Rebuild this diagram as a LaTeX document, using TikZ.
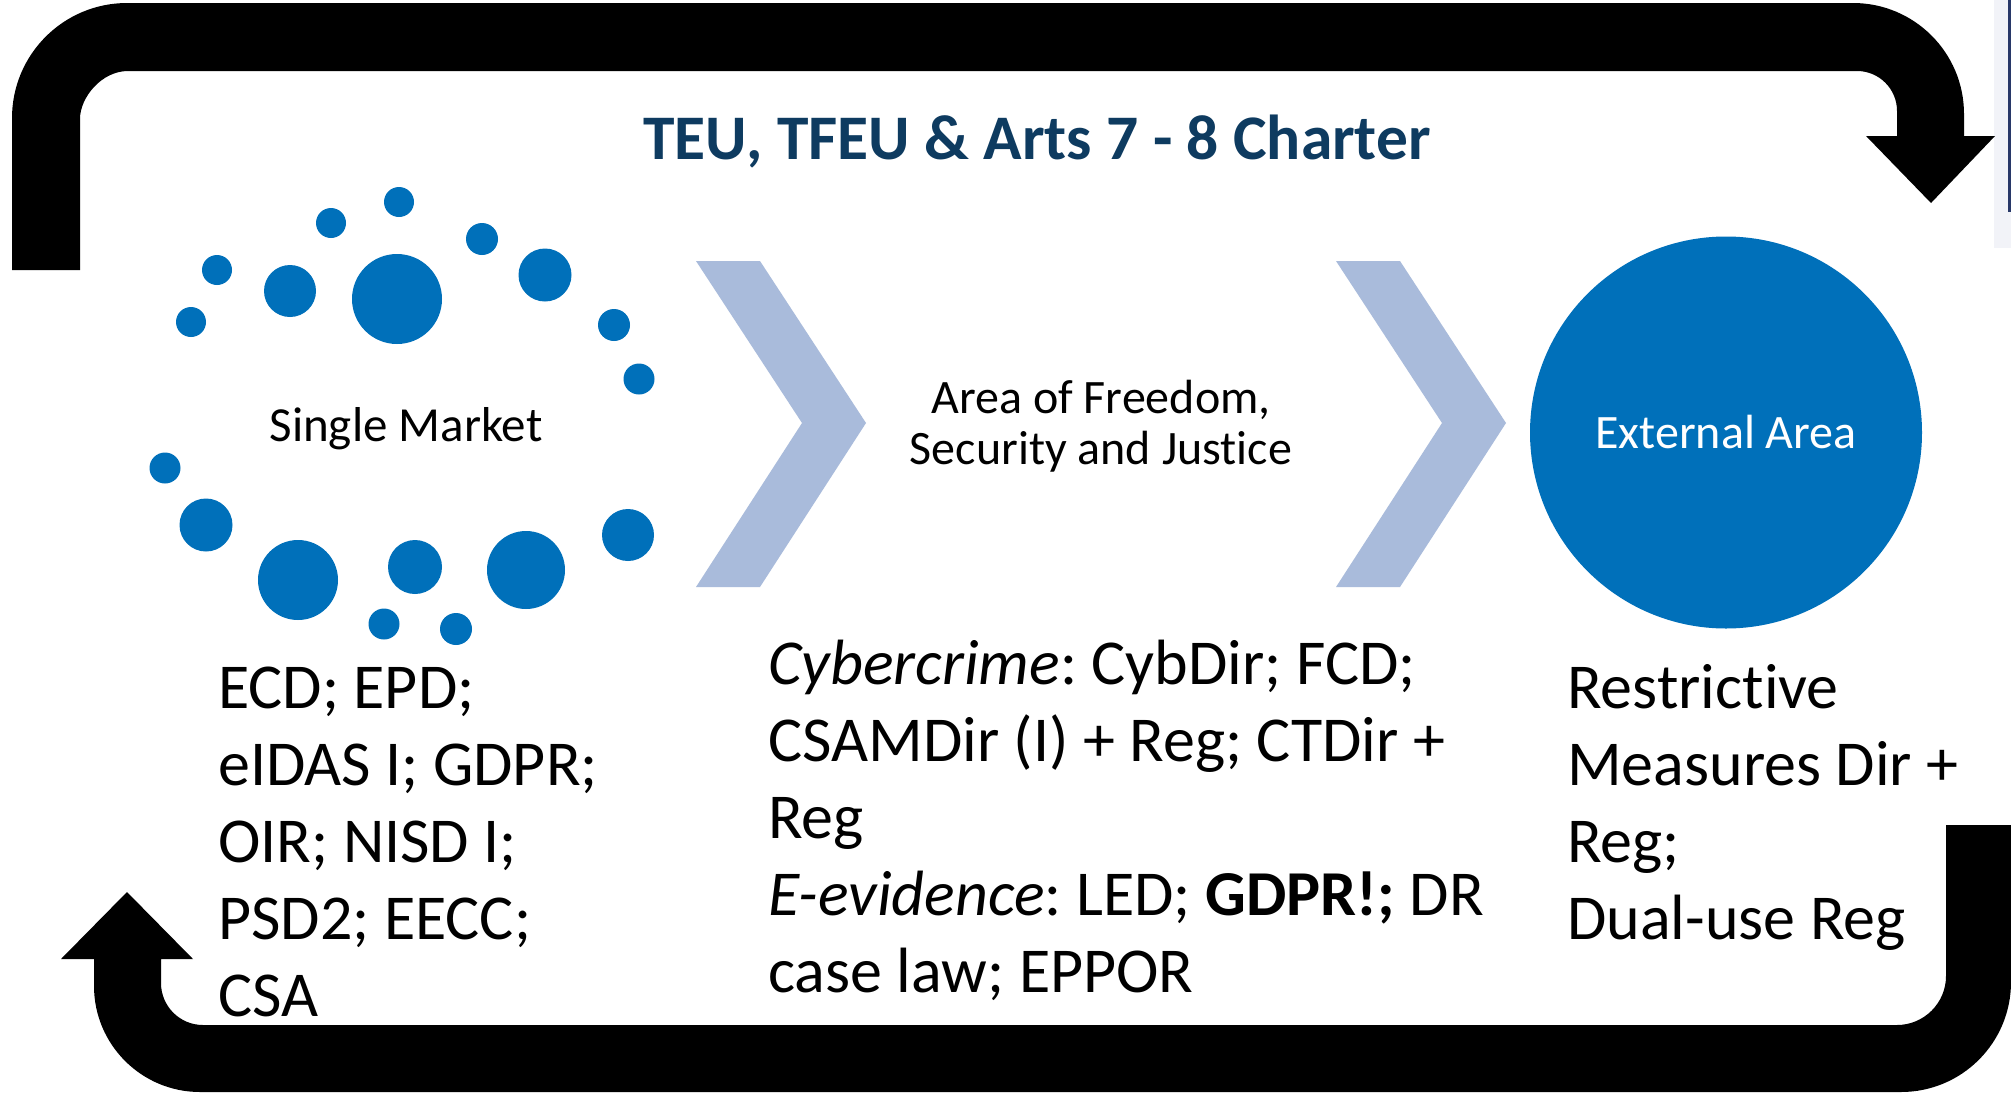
\documentclass[tikz,border=0pt]{standalone}
\usepackage{fontspec}
\setmainfont{Carlito}[Ligatures={NoCommon,NoContextual}]
\frenchspacing
\definecolor{dotblue}{RGB}{0,112,186}
\definecolor{chevblue}{RGB}{169,187,219}
\definecolor{titleblue}{RGB}{14,59,96}
\definecolor{sliver}{RGB}{242,243,248}
\definecolor{navyline}{RGB}{40,56,104}
\tikzset{
  band/.style={fill=black},
  bubble/.style={fill=dotblue},
  chev/.style={fill=chevblue},
  lawtext/.style={font=\fontsize{64}{77}\selectfont, anchor=base west, inner sep=0pt, text=black},
  areatext/.style={font=\fontsize{48}{51}\selectfont, anchor=base, inner sep=0pt, text=black},
  titletext/.style={font=\bfseries\fontsize{63.5}{74}\selectfont, anchor=base, inner sep=0pt, text=titleblue}
}
\begin{document}
\frenchspacing
\begin{tikzpicture}[x=1pt,y=-1pt]
\useasboundingbox (0,0) rectangle (2011,1093);
\fill[white] (0,0) rectangle (2011,1093);

% cropped sliver at right edge
\fill[sliver] (1994,0) rectangle (2011,248);
\fill[navyline] (2008,0) rectangle (2011,212);

% top curved arrow
\fill[band] (12,270) -- (12,118) .. controls (12,54.5) and (63.5,3) .. (127,3)
  -- (1853,3) .. controls (1914.3,3) and (1964,52.7) .. (1964,114)
  -- (1964,136) -- (1995,136) -- (1931,203) -- (1866,136) -- (1897,136)
  -- (1897,111) .. controls (1897,88.9) and (1879.1,71) .. (1857,71)
  -- (128,71) .. controls (101.5,71) and (80,97.5) .. (80,119)
  -- (80,270) -- cycle;

% bottom curved arrow
\fill[band] (1946,825) -- (2011,825) -- (2011,982)
  .. controls (2011,1042.8) and (1961.8,1092) .. (1901,1092)
  -- (200,1092) .. controls (141.5,1092) and (94,1044.5) .. (94,986)
  -- (94,959) -- (61,959) -- (127,892) -- (193,959) -- (161,959)
  -- (161,983) .. controls (161,1006.2) and (179.8,1025) .. (203,1025)
  -- (1897,1025) .. controls (1924,1025) and (1946,1003) .. (1946,976)
  -- cycle;

% title
\node[titletext] (title) at (1037,159) {TEU, TFEU \& Arts 7 - 8 Charter};

% single market dots
\fill[bubble] (399,202) circle (15);
\fill[bubble] (331,223) circle (15);
\fill[bubble] (482,239) circle (16);
\fill[bubble] (217,270) circle (15);
\fill[bubble] (290,291) circle (26);
\fill[bubble] (397,299) circle (45);
\fill[bubble] (545,275) circle (26.5);
\fill[bubble] (191,322) circle (15);
\fill[bubble] (614,325) circle (16);
\fill[bubble] (639,379) circle (15.5);
\fill[bubble] (165,468) circle (15.5);
\fill[bubble] (206,525) circle (26.5);
\fill[bubble] (298,580) circle (40);
\fill[bubble] (415,567) circle (27);
\fill[bubble] (526,570) circle (39);
\fill[bubble] (628,535) circle (26);
\fill[bubble] (384,624) circle (15.5);
\fill[bubble] (456,629) circle (16);
\node[areatext, font=\fontsize{49}{51}\selectfont] (sm) at (406,441) {Single Market};

% chevrons
\fill[chev] (696,261) -- (760,261) -- (866,423) -- (760,587) -- (696,587) -- (802,423) -- cycle;
\fill[chev] (1336,261) -- (1400,261) -- (1506,423) -- (1400,587) -- (1336,587) -- (1442,423) -- cycle;

% area of freedom
\node[areatext] (afsj1) at (1101,413) {Area of Freedom,};
\node[areatext] (afsj2) at (1101,464) {Security and Justice};

% external area
\node[circle, fill=dotblue, minimum size=392pt, inner sep=0pt, text=white,
      font=\fontsize{48}{51}\selectfont] (ext) at (1726,432.5) {External Area};

% left column
\node[lawtext] (l1) at (218,708) {ECD; EPD;};
\node[lawtext] (l2) at (218,785) {eIDAS I; GDPR;};
\node[lawtext] (l3) at (218,862) {OIR; NISD I;};
\node[lawtext] (l4) at (218,939) {PSD2; EECC;};
\node[lawtext] (l5) at (218,1016) {CSA};

% middle column
\node[lawtext] (m1) at (768,684) {{\itshape Cybercrime}: CybDir; FCD;};
\node[lawtext] (m2) at (768,761) {CSAMDir (I) + Reg; CTDir +};
\node[lawtext] (m3) at (768,838) {Reg};
\node[lawtext] (m4) at (768,915) {{\itshape E-evidence}: LED; {\bfseries GDPR!;} DR};
\node[lawtext] (m5) at (768,992) {case law; EPPOR};

% right column
\node[lawtext] (r1) at (1567,708) {Restrictive};
\node[lawtext] (r2) at (1567,785) {Measures Dir +};
\node[lawtext] (r3) at (1567,862) {Reg;};
\node[lawtext] (r4) at (1567,939) {Dual-use Reg};
\end{tikzpicture}
\end{document}
